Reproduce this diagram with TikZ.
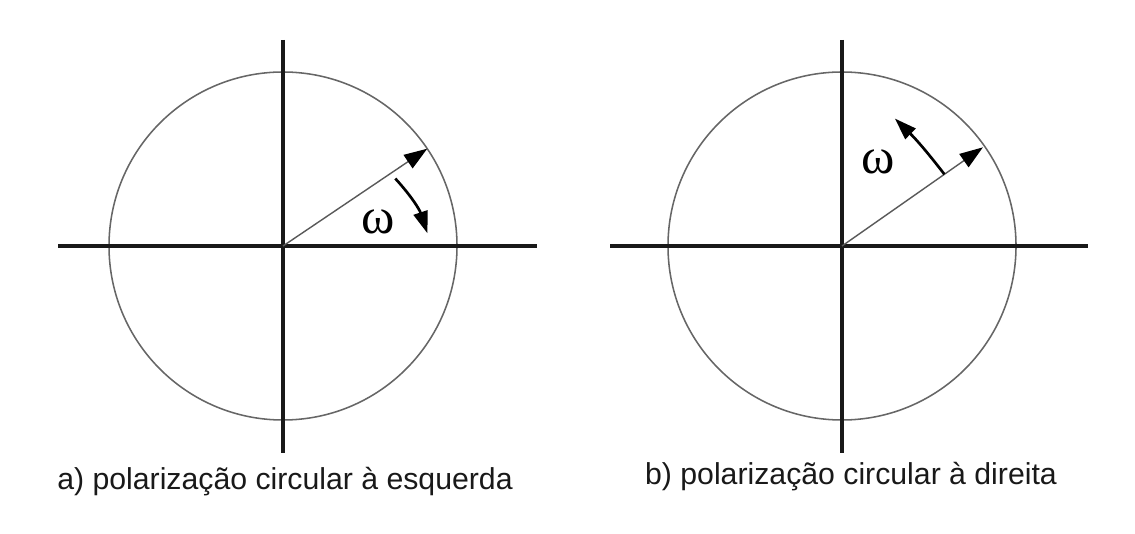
\documentclass[tikz,border=0pt]{standalone}
\usepackage{fontspec}
\setmainfont{Liberation Sans}
\newfontfamily\omegafont{Liberation Serif}
\usetikzlibrary{arrows.meta, calc}

\begin{document}
\begin{tikzpicture}[x=0.025cm, y=0.025cm,
  axis/.style={line width=2.2pt, black!90},
  ring/.style={line width=1.1pt, black!60},
  vector/.style={line width=1pt, black!65, -{Triangle[length=0.58cm, width=0.4cm, color=black]}},
  spin/.style={line width=1.9pt, -{Triangle[length=0.55cm, width=0.36cm]}},
  caption/.style={font=\fontsize{21.5}{26}\selectfont, text=black!90, inner sep=0pt},
  omega/.style={font=\omegafont\fontsize{36}{40}\selectfont, inner sep=0pt}]
\useasboundingbox (0,0) rectangle (1135,533);

% a) left-hand rotation
\coordinate (oa) at (283,287);
\draw[ring] (oa) circle (174);
\draw[axis] (58,287) -- (537,287);
\draw[axis] (283,493) -- (283,80);
\coordinate (pa) at ($(oa)+(34:174)$);
\draw[vector] (oa) -- (pa);
\coordinate (sa) at ($(oa)+(31:131)$);
\coordinate (ea) at ($(oa)+(5:145)$);
\draw[spin] (sa) to[bend left=12] (ea);
\node[omega] (wa) at (378,311) {ω};
\node[caption] (capa) at (285,51) {a) polarização circular à esquerda};

% b) right-hand rotation
\coordinate (ob) at (842,287);
\draw[ring] (ob) circle (174);
\draw[axis] (610,287) -- (1088,287);
\draw[axis] (842,493) -- (842,80);
\coordinate (pb) at ($(ob)+(35:172)$);
\draw[vector] (ob) -- (pb);
\coordinate (sb) at ($(ob)+(35:125)$);
\coordinate (eb) at ($(ob)+(67.5:138)$);
\draw[spin] (sb) to[bend right=4] (eb);
\node[omega] (wb) at (878,371) {ω};
\node[caption] (capb) at (851,56) {b) polarização circular à direita};
\end{tikzpicture}
\end{document}
